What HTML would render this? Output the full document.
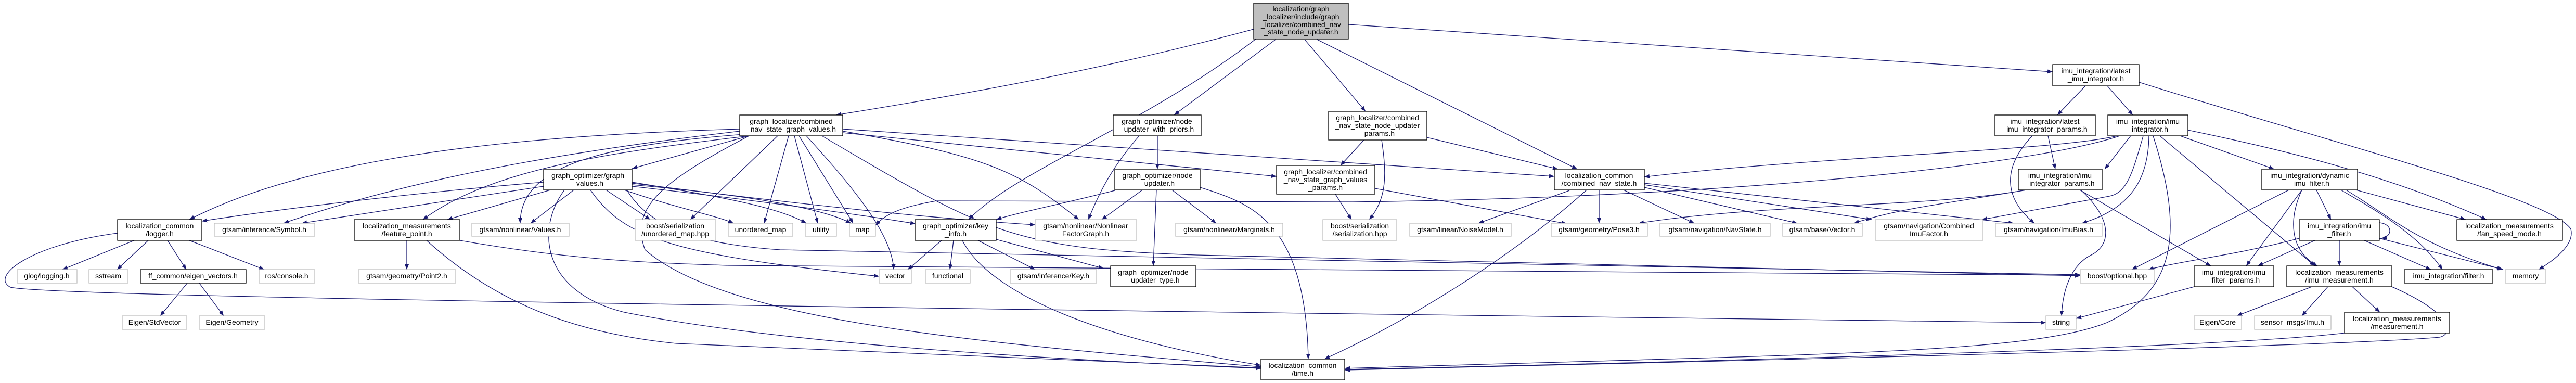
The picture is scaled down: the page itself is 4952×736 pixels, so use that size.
<!DOCTYPE html>
<html><head><meta charset="utf-8">
<style>
html,body{margin:0;padding:0;background:#fff;}
svg{display:block;}
text{font-family:"Liberation Sans",sans-serif;font-size:14px;fill:#000;text-anchor:middle;}
.e{fill:none;stroke:#191970;stroke-width:1.3;marker-end:url(#a);}
.b{fill:#fff;stroke:#000;stroke-width:1.3;}
.g{fill:#fff;stroke:#bfbfbf;stroke-width:1.3;}
</style></head><body>
<svg width="4952" height="736" viewBox="0 0 4952 736" xmlns="http://www.w3.org/2000/svg">
<defs><marker id="a" markerWidth="11" markerHeight="9" refX="10" refY="4" orient="auto" markerUnits="userSpaceOnUse"><path d="M0,0 L10,4 L0,8 z" fill="#191970"/></marker></defs>
<g>
<path class="e" d="M2410,56 C2100,140 1800,190 1607,221"/>
<path class="e" d="M2414,75 C2200,240 1950,330 1862,422"/>
<path class="e" d="M2452,76 L2257,221"/>
<path class="e" d="M2508,76 L2625,214"/>
<path class="e" d="M2532,76 L3032,325"/>
<path class="e" d="M2592,47 L3946,138"/>
<path class="e" d="M1422,248 C1000,260 600,300 364,422"/>
<path class="e" d="M1422,252 C1100,290 800,340 545,429"/>
<path class="e" d="M1440,261 C1200,290 950,320 813,422"/>
<path class="e" d="M1430,258 C1150,280 1000,320 1000,429"/>
<path class="e" d="M1440,261 L1215,324"/>
<path class="e" d="M1495,261 L1327,422"/>
<path class="e" d="M1516,261 L1469,429"/>
<path class="e" d="M1527,261 L1572,429"/>
<path class="e" d="M1536,261 L1640,429"/>
<path class="e" d="M1550,261 C1640,360 1715,450 1718,518"/>
<path class="e" d="M1620,252 C1900,300 1960,330 2074,422"/>
<path class="e" d="M1620,255 L2454,339"/>
<path class="e" d="M1620,248 L2988,339"/>
<path class="e" d="M1580,261 C1900,450 1950,478 2300,490 L3999,530"/>
<path class="e" d="M1440,261 C1270,350 1210,400 1240,480 C1400,620 1900,660 2424,705"/>
<path class="e" d="M1085,365 C1030,440 1040,560 1200,600 C1500,660 2000,690 2424,708"/>
<path class="e" d="M820,462 C950,580 1100,640 1300,660 L2424,707"/>
<path class="e" d="M1850,462 C1900,560 2100,650 2424,702"/>
<path class="e" d="M2307,360 C2400,390 2510,420 2515,690"/>
<path class="e" d="M3050,365 C2900,500 2700,620 2546,690"/>
<path class="e" d="M4139,261 C4200,450 4180,560 4050,620 C3900,680 3500,680 2585,708"/>
<path class="e" d="M4507,640 C4300,665 3500,690 2585,710"/>
<path class="e" d="M4598,551 C4710,600 4720,640 4690,648 C4500,665 3500,690 2585,711"/>
<path class="e" d="M1045,350 C800,370 550,400 388,425"/>
<path class="e" d="M1045,358 C900,380 700,410 580,429"/>
<path class="e" d="M1058,365 L860,422"/>
<path class="e" d="M1103,365 L1020,429"/>
<path class="e" d="M1165,365 L1250,422"/>
<path class="e" d="M1200,365 C1300,400 1380,415 1410,429"/>
<path class="e" d="M1215,350 C1400,380 1500,400 1550,429"/>
<path class="e" d="M1215,355 C1500,380 1600,410 1636,429"/>
<path class="e" d="M1215,358 C1500,390 1700,420 1760,430"/>
<path class="e" d="M1215,352 C1600,400 1800,420 1990,432"/>
<path class="e" d="M1135,365 C1200,460 1300,490 1690,531"/>
<path class="e" d="M1205,365 C1250,440 1350,470 1500,480 L3999,528"/>
<path class="e" d="M258,462 L120,518"/>
<path class="e" d="M285,462 L225,518"/>
<path class="e" d="M322,462 L358,518"/>
<path class="e" d="M364,462 L508,518"/>
<path class="e" d="M226,448 C60,470 -20,530 20,552 C100,570 1500,590 3933,620"/>
<path class="e" d="M360,544 L308,607"/>
<path class="e" d="M383,544 L430,607"/>
<path class="e" d="M782,462 L782,518"/>
<path class="e" d="M884,462 C1100,500 1250,505 1400,510 L3999,529"/>
<path class="e" d="M1810,462 L1745,518"/>
<path class="e" d="M1833,462 L1826,518"/>
<path class="e" d="M1880,462 L1990,518"/>
<path class="e" d="M1915,460 L2122,516"/>
<path class="e" d="M2225,261 L2225,325"/>
<path class="e" d="M2190,261 C2130,330 2110,380 2092,422"/>
<path class="e" d="M2143,366 C2050,390 1950,410 1915,422"/>
<path class="e" d="M2196,365 L2118,422"/>
<path class="e" d="M2253,365 L2338,429"/>
<path class="e" d="M2223,365 L2217,511"/>
<path class="e" d="M2622,269 L2577,318"/>
<path class="e" d="M2656,269 C2665,330 2668,380 2632,422"/>
<path class="e" d="M2743,264 L2995,325"/>
<path class="e" d="M2567,373 L2598,422"/>
<path class="e" d="M2643,362 L3012,430"/>
<path class="e" d="M3017,366 L2842,429"/>
<path class="e" d="M3074,365 L3074,429"/>
<path class="e" d="M3121,365 L3257,429"/>
<path class="e" d="M3161,360 L3455,429"/>
<path class="e" d="M3161,355 L3598,422"/>
<path class="e" d="M3161,352 L3871,429"/>
<path class="e" d="M4009,165 L3955,221"/>
<path class="e" d="M4051,165 L4100,221"/>
<path class="e" d="M4112,158 C4500,280 4900,380 4942,440 C4950,470 4910,500 4880,518"/>
<path class="e" d="M3937,261 L3951,325"/>
<path class="e" d="M3907,261 C3850,320 3850,380 3911,429"/>
<path class="e" d="M4070,261 C3950,290 3500,300 3161,340"/>
<path class="e" d="M4075,261 C3900,320 3300,380 2600,388 L1800,386 C1720,400 1700,415 1683,433"/>
<path class="e" d="M4096,261 L4046,325"/>
<path class="e" d="M4120,261 C4100,330 4090,370 4055,377 L3810,422"/>
<path class="e" d="M4131,261 C4130,340 4100,400 4002,429"/>
<path class="e" d="M4191,261 L4372,325"/>
<path class="e" d="M4206,250 C4400,290 4600,340 4780,422"/>
<path class="e" d="M4152,261 L4450,511"/>
<path class="e" d="M3895,365 C3700,400 3400,390 3150,429"/>
<path class="e" d="M3895,365 C3750,390 3650,400 3564,429"/>
<path class="e" d="M3998,365 L4250,511"/>
<path class="e" d="M4000,365 C4060,420 4060,470 4020,490 C3980,510 3965,560 3963,607"/>
<path class="e" d="M4400,365 L4098,518"/>
<path class="e" d="M4453,365 L4481,422"/>
<path class="e" d="M4425,365 L4318,511"/>
<path class="e" d="M4425,365 C4400,420 4400,480 4455,511"/>
<path class="e" d="M4529,365 L4740,422"/>
<path class="e" d="M4500,365 C4560,400 4650,450 4695,518"/>
<path class="e" d="M4510,365 C4600,420 4650,470 4810,518"/>
<path class="e" d="M4574,428 C4600,430 4600,455 4578,458"/>
<path class="e" d="M4420,458 C4300,490 4200,500 4130,518"/>
<path class="e" d="M4450,462 L4340,511"/>
<path class="e" d="M4497,462 L4497,511"/>
<path class="e" d="M4545,462 L4673,518"/>
<path class="e" d="M4574,458 C4700,490 4780,510 4812,518"/>
<path class="e" d="M4218,551 L3991,612"/>
<path class="e" d="M4444,551 L4300,607"/>
<path class="e" d="M4475,551 L4425,607"/>
<path class="e" d="M4522,551 L4575,600"/>
</g>
<g>
<rect x="2410" y="6" width="182" height="69" fill="#bfbfbf" stroke="#000" stroke-width="1.3"/>
<text x="2501" y="22">localization/graph</text><text x="2501" y="37">_localizer/include/graph</text><text x="2501" y="52">_localizer/combined_nav</text><text x="2501" y="66">_state_node_updater.h</text>

<rect class="b" x="1422" y="221" width="198" height="40"/><text x="1521" y="238">graph_localizer/combined</text><text x="1521" y="253">_nav_state_graph_values.h</text>
<rect class="b" x="2140" y="221" width="169" height="40"/><text x="2224" y="238">graph_optimizer/node</text><text x="2224" y="253">_updater_with_priors.h</text>
<rect class="b" x="2554" y="214" width="189" height="55"/><text x="2648" y="231">graph_localizer/combined</text><text x="2648" y="246">_nav_state_node_updater</text><text x="2648" y="261">_params.h</text>
<rect class="b" x="3946" y="124" width="166" height="41"/><text x="4029" y="141">imu_integration/latest</text><text x="4029" y="156">_imu_integrator.h</text>
<rect class="b" x="1045" y="325" width="170" height="40"/><text x="1130" y="342">graph_optimizer/graph</text><text x="1130" y="357">_values.h</text>
<rect class="b" x="2143" y="325" width="164" height="40"/><text x="2225" y="342">graph_optimizer/node</text><text x="2225" y="357">_updater.h</text>
<rect class="b" x="2454" y="318" width="189" height="55"/><text x="2548" y="335">graph_localizer/combined</text><text x="2548" y="350">_nav_state_graph_values</text><text x="2548" y="365">_params.h</text>
<rect class="b" x="2988" y="325" width="173" height="40"/><text x="3074" y="342">localization_common</text><text x="3074" y="357">/combined_nav_state.h</text>
<rect class="b" x="3835" y="221" width="193" height="40"/><text x="3931" y="238">imu_integration/latest</text><text x="3931" y="253">_imu_integrator_params.h</text>
<rect class="b" x="4052" y="221" width="154" height="40"/><text x="4129" y="238">imu_integration/imu</text><text x="4129" y="253">_integrator.h</text>
<rect class="b" x="3880" y="325" width="161" height="40"/><text x="3960" y="342">imu_integration/imu</text><text x="3960" y="357">_integrator_params.h</text>
<rect class="b" x="4348" y="325" width="184" height="40"/><text x="4440" y="342">imu_integration/dynamic</text><text x="4440" y="357">_imu_filter.h</text>

<rect class="b" x="226" y="422" width="162" height="40"/><text x="307" y="439">localization_common</text><text x="307" y="454">/logger.h</text>
<rect class="g" x="412" y="429" width="193" height="25"/><text x="508" y="446">gtsam/inference/Symbol.h</text>
<rect class="b" x="681" y="422" width="203" height="40"/><text x="782" y="439">localization_measurements</text><text x="782" y="454">/feature_point.h</text>
<rect class="g" x="907" y="429" width="187" height="25"/><text x="1000" y="446">gtsam/nonlinear/Values.h</text>
<rect class="g" x="1221" y="422" width="155" height="40"/><text x="1298" y="439">boost/serialization</text><text x="1298" y="454">/unordered_map.hpp</text>
<rect class="g" x="1400" y="429" width="124" height="25"/><text x="1462" y="446">unordered_map</text>
<rect class="g" x="1548" y="429" width="60" height="25"/><text x="1578" y="446">utility</text>
<rect class="g" x="1633" y="429" width="50" height="25"/><text x="1658" y="446">map</text>
<rect class="b" x="1759" y="422" width="156" height="40"/><text x="1837" y="439">graph_optimizer/key</text><text x="1837" y="454">_info.h</text>
<rect class="g" x="1990" y="422" width="195" height="40"/><text x="2087" y="439">gtsam/nonlinear/Nonlinear</text><text x="2087" y="454">FactorGraph.h</text>
<rect class="g" x="2260" y="429" width="206" height="25"/><text x="2363" y="446">gtsam/nonlinear/Marginals.h</text>
<rect class="g" x="2543" y="422" width="142" height="40"/><text x="2614" y="439">boost/serialization</text><text x="2614" y="454">/serialization.hpp</text>
<rect class="g" x="2710" y="429" width="195" height="25"/><text x="2807" y="446">gtsam/linear/NoiseModel.h</text>
<rect class="g" x="2982" y="429" width="185" height="25"/><text x="3074" y="446">gtsam/geometry/Pose3.h</text>
<rect class="g" x="3191" y="429" width="212" height="25"/><text x="3297" y="446">gtsam/navigation/NavState.h</text>
<rect class="g" x="3427" y="429" width="153" height="25"/><text x="3503" y="446">gtsam/base/Vector.h</text>
<rect class="g" x="3605" y="422" width="207" height="40"/><text x="3708" y="439">gtsam/navigation/Combined</text><text x="3708" y="454">ImuFactor.h</text>
<rect class="g" x="3836" y="429" width="205" height="25"/><text x="3938" y="446">gtsam/navigation/ImuBias.h</text>
<rect class="b" x="4420" y="422" width="154" height="40"/><text x="4497" y="439">imu_integration/imu</text><text x="4497" y="454">_filter.h</text>
<rect class="b" x="4723" y="422" width="203" height="40"/><text x="4824" y="439">localization_measurements</text><text x="4824" y="454">/fan_speed_mode.h</text>

<rect class="g" x="33" y="518" width="115" height="26"/><text x="90" y="535">glog/logging.h</text>
<rect class="g" x="171" y="518" width="75" height="26"/><text x="208" y="535">sstream</text>
<rect class="b" x="270" y="518" width="203" height="26"/><text x="371" y="535">ff_common/eigen_vectors.h</text>
<rect class="g" x="498" y="518" width="107" height="26"/><text x="551" y="535">ros/console.h</text>
<rect class="g" x="689" y="518" width="187" height="26"/><text x="782" y="535">gtsam/geometry/Point2.h</text>
<rect class="g" x="1690" y="518" width="62" height="26"/><text x="1721" y="535">vector</text>
<rect class="g" x="1779" y="518" width="86" height="26"/><text x="1822" y="535">functional</text>
<rect class="g" x="1942" y="518" width="166" height="26"/><text x="2025" y="535">gtsam/inference/Key.h</text>
<rect class="b" x="2135" y="511" width="164" height="40"/><text x="2217" y="528">graph_optimizer/node</text><text x="2217" y="543">_updater_type.h</text>
<rect class="g" x="3999" y="518" width="143" height="26"/><text x="4070" y="535">boost/optional.hpp</text>
<rect class="b" x="4218" y="511" width="153" height="40"/><text x="4294" y="528">imu_integration/imu</text><text x="4294" y="543">_filter_params.h</text>
<rect class="b" x="4396" y="511" width="202" height="40"/><text x="4497" y="528">localization_measurements</text><text x="4497" y="543">/imu_measurement.h</text>
<rect class="b" x="4622" y="518" width="170" height="26"/><text x="4707" y="535">imu_integration/filter.h</text>
<rect class="g" x="4816" y="518" width="78" height="26"/><text x="4855" y="535">memory</text>

<rect class="g" x="235" y="607" width="124" height="26"/><text x="297" y="624">Eigen/StdVector</text>
<rect class="g" x="383" y="607" width="126" height="26"/><text x="446" y="624">Eigen/Geometry</text>
<rect class="g" x="3933" y="607" width="58" height="26"/><text x="3962" y="624">string</text>
<rect class="g" x="4218" y="607" width="91" height="26"/><text x="4263" y="624">Eigen/Core</text>
<rect class="g" x="4334" y="607" width="147" height="26"/><text x="4407" y="624">sensor_msgs/Imu.h</text>
<rect class="b" x="4507" y="600" width="202" height="40"/><text x="4608" y="617">localization_measurements</text><text x="4608" y="632">/measurement.h</text>
<rect class="b" x="2424" y="690" width="161" height="40"/><text x="2504" y="707">localization_common</text><text x="2504" y="722">/time.h</text>
</g>
</svg>
</body></html>
